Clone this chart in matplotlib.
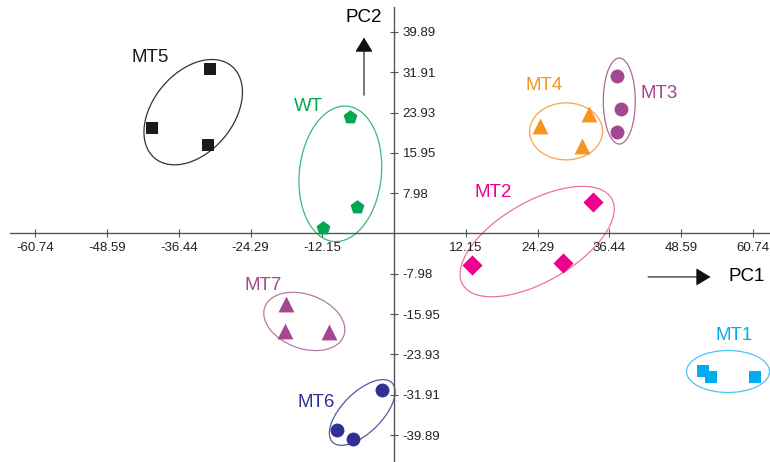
import matplotlib
matplotlib.use("Agg")
import matplotlib.pyplot as plt
from matplotlib.patches import Ellipse
from matplotlib.transforms import ScaledTranslation

plt.rcParams["font.family"] = ["Liberation Sans", "DejaVu Sans"]

# Puntos de cada grupo (PC1, PC2)
grupos = ["MT5", "WT", "MT4", "MT3", "MT2", "MT7", "MT6", "MT1"]
pc1 = {
    "MT5": [-31.1, -40.9, -31.5],
    "WT": [-7.4, -6.3, -12.0],
    "MT4": [24.7, 33.0, 31.8],
    "MT3": [37.7, 38.4, 37.7],
    "MT2": [13.2, 28.6, 33.7],
    "MT7": [-18.3, -18.4, -11.0],
    "MT6": [-2.0, -9.6, -6.9],
    "MT1": [52.3, 53.6, 61.1],
}
pc2 = {
    "MT5": [32.5, 20.8, 17.5],
    "WT": [23.0, 5.2, 1.0],
    "MT4": [21.2, 23.6, 17.3],
    "MT3": [31.2, 24.6, 20.0],
    "MT2": [-6.2, -5.8, 6.3],
    "MT7": [-13.9, -19.2, -19.4],
    "MT6": [-31.0, -38.9, -40.7],
    "MT1": [-27.2, -28.4, -28.4],
}
xticks = [-60.74, -48.59, -36.44, -24.29, -12.15, 12.15, 24.29, 36.44, 48.59, 60.74]
yticks = [-39.89, -31.91, -23.93, -15.95, -7.98, 7.98, 15.95, 23.93, 31.91, 39.89]

# Estilo de cada grupo
colores = {
    "MT5": "#1a1a1a", "WT": "#00a651", "MT4": "#f7941d", "MT3": "#a3478f",
    "MT2": "#ec008c", "MT7": "#a3478f", "MT6": "#2e3192", "MT1": "#00aeef",
}
bordes = {
    "MT5": "#333333", "WT": "#3cb878", "MT4": "#f7a54a", "MT3": "#a86a9a",
    "MT2": "#f06eaa", "MT7": "#b57aa8", "MT6": "#5557a8", "MT1": "#4cc4f0",
}
marcadores = {
    "MT5": ("s", 75), "WT": ("p", 110), "MT4": ("^", 130), "MT3": ("o", 100),
    "MT2": ("D", 105), "MT7": ("^", 130), "MT6": ("o", 100), "MT1": ("s", 65),
}
# elipse: centro (datos), ancho, alto (px), angulo
elipses = {
    "MT5": ((-34.0, 24.0), 120, 80, 50),
    "WT": ((-9.1, 11.8), 136, 82, 84),
    "MT4": ((29.1, 20.2), 73, 57, 0),
    "MT3": ((38.1, 26.2), 32, 86, 0),
    "MT2": ((24.2, -1.6), 172, 80, 30),
    "MT7": ((-15.2, -17.4), 84, 54, -20),
    "MT6": ((-5.4, -35.4), 84, 40, 45),
    "MT1": ((56.5, -27.3), 83, 42, 0),
}
etiquetas = {
    "MT5": (-41.3, 34.9), "WT": (-14.5, 25.2), "MT4": (25.4, 29.2),
    "MT3": (44.8, 27.6), "MT2": (16.8, 8.2), "MT7": (-22.2, -10.2),
    "MT6": (-13.2, -33.4), "MT1": (57.5, -20.1),
}

fig = plt.figure(figsize=(7.7, 4.62), dpi=100)
ax = fig.add_axes([10 / 770, 0, 760 / 770, 455 / 462])
ax.set_xlim(-65.0, 63.6)
ax.set_ylim(-45.2, 44.8)

for g in grupos:
    m, s = marcadores[g]
    ax.scatter(pc1[g], pc2[g], marker=m, s=s, color=colores[g], zorder=3, linewidths=0)
    (cx, cy), w, h, ang = elipses[g]
    tr = fig.dpi_scale_trans + ScaledTranslation(cx, cy, ax.transData)
    ax.add_patch(Ellipse((0, 0), w / 100, h / 100, angle=ang, transform=tr,
                         fill=False, edgecolor=bordes[g], linewidth=0.9))
    ax.text(*etiquetas[g], g, color=colores[g], fontsize=13.5, ha="center", va="center")

# Ejes en el origen
ax.spines["left"].set_visible(False)
ax.spines["top"].set_visible(False)
ax.spines["right"].set_position(("data", 0))
ax.spines["bottom"].set_position(("data", 0))
for sp in ["right", "bottom"]:
    ax.spines[sp].set_color("#555555")
    ax.spines[sp].set_linewidth(1.0)
ax.yaxis.tick_right()
ax.set_xticks(xticks)
ax.set_yticks(yticks)
ax.set_xticklabels([f"{v:.2f}" for v in xticks])
ax.set_yticklabels([f"{v:.2f}" for v in yticks])
ax.tick_params(direction="inout", length=6, width=0.8, color="#555555",
               labelsize=9.5, labelcolor="#222222", pad=3)

# Flechas PC1 y PC2
flecha = dict(arrowstyle="-|>,head_length=0.9,head_width=0.55", color="#111111", lw=0.8)
ax.annotate("", xy=(-5.1, 39.3), xytext=(-5.1, 26.8), arrowprops=flecha)
ax.text(-5.2, 42.7, "PC2", fontsize=13.5, ha="center", va="center")
ax.annotate("", xy=(54.0, -8.6), xytext=(42.5, -8.6), arrowprops=flecha)
ax.text(56.6, -8.6, "PC1", fontsize=13.5, ha="left", va="center")

fig.savefig("out.png", dpi=100)
